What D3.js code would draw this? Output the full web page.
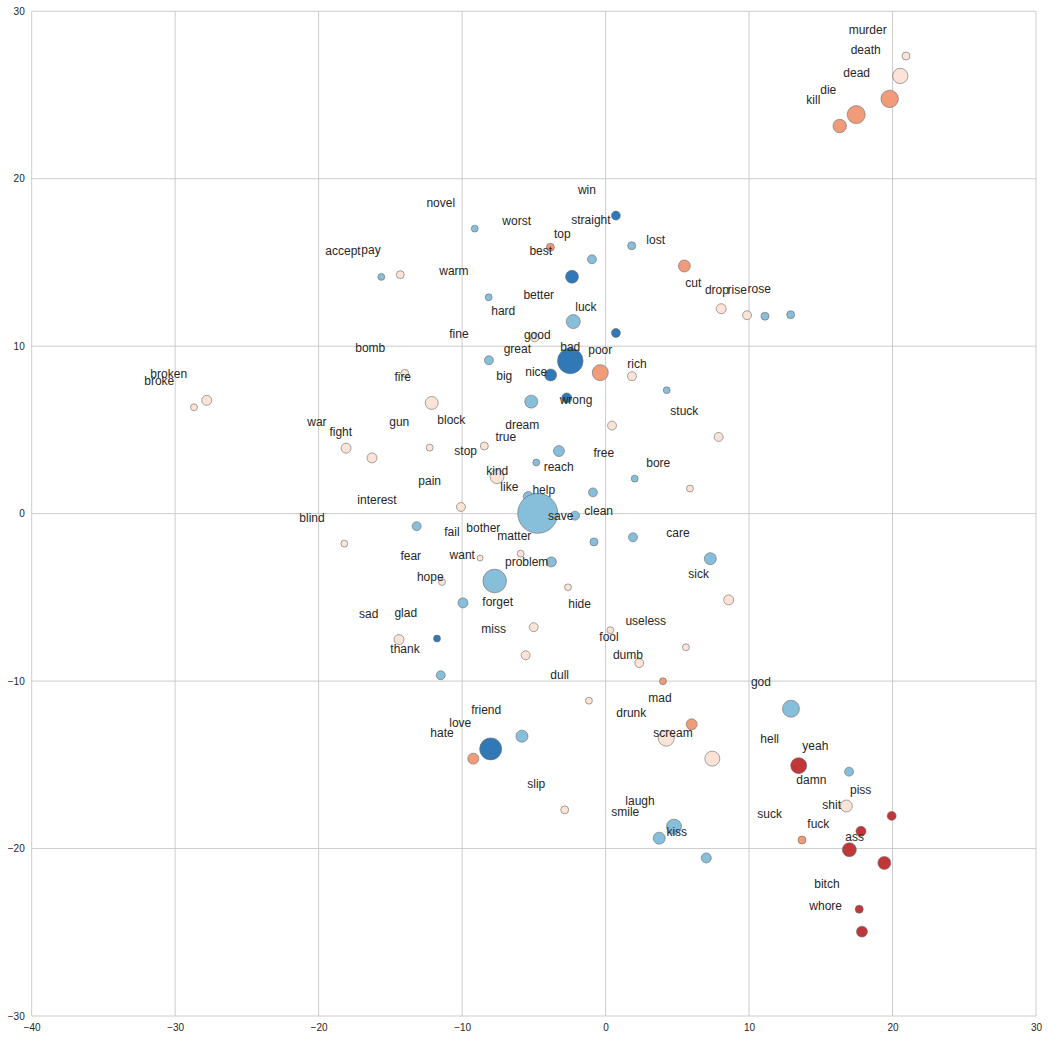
<!DOCTYPE html>
<html><head><meta charset="utf-8">
<script src="https://cdn.jsdelivr.net/npm/d3@7"></script>
<style>
body{margin:0;background:#fff;}
text{font-family:"Liberation Sans",Arial,Helvetica,sans-serif;}
</style>
</head><body>
<svg id="chart" width="1048" height="1040"></svg>
<script>
// ---- data (t-SNE coordinates) ----
const pointX = [20.94,20.54,19.80,17.47,16.32,5.49,8.06,9.86,11.11,12.90,
-9.12,-3.85,0.72,1.82,-0.95,-2.34,-15.63,-14.31,-8.15,-2.25,
0.72,-4.94,-8.13,-2.46,-0.37,-3.83,1.84,4.26,-14.00,-12.12,
-5.18,-2.71,0.45,-18.09,-16.28,-12.26,-8.45,-3.25,-4.83,-7.57,
2.03,5.88,-0.88,-5.39,-4.73,-10.08,-28.69,-27.80,-13.17,-18.21,
-11.40,-9.94,-14.40,-11.75,-11.49,-2.13,-0.81,1.91,-5.92,-8.75,
-3.78,7.30,-7.73,-2.62,8.58,-5.01,0.33,-5.57,5.60,2.35,
4.00,-1.16,6.00,-5.83,-8.01,-9.22,4.23,7.44,-2.85,4.77,
3.74,7.02,12.92,13.46,16.97,16.78,19.94,17.80,13.69,16.99,
19.43,17.68,17.87,7.88];
const pointY = [27.33,26.14,24.77,23.83,23.15,14.79,12.24,11.85,11.79,11.88,
17.02,15.91,17.80,16.00,15.19,14.15,14.14,14.27,12.92,11.47,
10.79,10.53,9.16,9.12,8.42,8.28,8.21,7.37,8.38,6.61,
6.69,6.91,5.26,3.91,3.33,3.94,4.04,3.74,3.05,2.21,
2.09,1.50,1.27,1.02,0.02,0.40,6.35,6.77,-0.75,-1.79,
-4.08,-5.33,-7.52,-7.46,-9.65,-0.12,-1.69,-1.41,-2.39,-2.65,
-2.88,-2.69,-4.02,-4.40,-5.15,-6.78,-6.96,-8.46,-7.98,-8.92,
-10.01,-11.17,-12.58,-13.29,-14.05,-14.63,-13.41,-14.63,-17.69,-18.69,
-19.38,-20.56,-11.65,-15.05,-15.41,-17.46,-18.05,-18.97,-19.49,-20.07,
-20.86,-23.62,-24.96,4.58];
const pointWeight = [16,59,76,81,45,36,25,20,16,16,
12,16,20,16,20,42,12,16,12,49,
20,20,20,164,64,36,20,12,16,42,
42,25,20,25,25,12,16,30,12,49,
12,12,20,25,400,20,12,25,20,12,
12,25,25,12,20,20,16,20,12,9,
25,36,139,12,25,20,12,20,12,20,
12,12,30,36,121,30,64,56,16,56,
36,25,72,64,20,36,20,25,16,49,
42,16,30,20];
const pointGroup = [3,3,4,4,4,4,3,3,1,1,
1,4,0,1,1,0,1,3,1,1,
0,3,1,0,4,0,3,1,3,3,
1,0,3,3,3,3,3,1,1,3,
1,3,1,1,1,3,3,3,1,3,
3,1,3,0,1,1,1,1,3,3,
1,1,1,3,3,3,3,3,3,3,
4,3,4,1,0,4,3,3,3,1,
1,1,1,5,1,3,5,5,4,5,
5,5,5,3];

const words = ["murder","death","dead","die","kill","cut","drop","rise","rose","win",
"novel","worst","straight","top","lost","pay","accept","best","warm","better",
"hard","luck","fine","good","bomb","great","bad","poor","rich","fire",
"big","nice","wrong","stuck","gun","block","dream","true","stop","free",
"reach","bore","kind","pain","like","help","interest","broken","broke","war",
"fight","blind","fail","fear","hope","sad","glad","thank","save","clean",
"bother","matter","care","want","problem","sick","forget","hide","useless","miss",
"fool","dumb","dull","god","mad","friend","drunk","love","hate","scream",
"slip","laugh","smile","kiss","hell","yeah","damn","piss","shit","suck",
"fuck","ass","bitch","whore"];
const labelX = [18.27,18.13,17.50,15.52,14.48,6.11,7.76,9.18,10.71,-1.30,
-11.49,-6.20,-1.02,-3.02,3.49,-16.35,-18.30,-4.52,-10.57,-4.66,
-7.13,-1.37,-10.22,-4.76,-16.40,-6.15,-2.46,-0.37,2.19,-14.14,
-7.06,-4.83,-2.06,5.49,-14.38,-10.75,-5.81,-6.96,-9.75,-0.13,
-3.27,3.67,-7.55,-12.26,-6.71,-4.31,-15.93,-30.45,-31.11,-20.12,
-18.46,-20.46,-10.71,-13.58,-12.22,-16.51,-13.93,-13.98,-3.13,-0.48,
-8.52,-6.36,5.05,-9.99,-5.50,6.49,-7.52,-1.81,2.80,-7.80,
0.24,1.56,-3.20,10.83,3.79,-8.32,1.79,-10.13,-11.40,4.70,
-4.83,2.40,1.37,4.96,11.44,14.62,14.34,17.78,15.76,11.44,
14.83,17.36,15.43,15.34];
const labelY = [28.89,27.69,26.34,25.34,24.71,13.76,13.36,13.36,13.42,19.33,
18.54,17.48,17.54,16.70,16.35,15.75,15.69,15.71,14.51,13.06,
12.12,12.36,10.75,10.67,9.93,9.84,9.97,9.76,8.96,8.18,
8.22,8.46,6.79,6.15,5.48,5.61,5.32,4.60,3.74,3.64,
2.81,3.05,2.57,1.97,1.61,1.42,0.82,8.36,7.92,5.49,
4.88,-0.24,-1.07,-2.51,-3.76,-5.97,-5.91,-8.08,-0.12,0.18,
-0.84,-1.31,-1.15,-2.47,-2.88,-3.60,-5.26,-5.39,-6.41,-6.89,
-7.35,-8.42,-9.63,-10.05,-11.01,-11.72,-11.88,-12.50,-13.08,-13.08,
-16.12,-17.14,-17.81,-18.99,-13.45,-13.87,-15.90,-16.50,-17.40,-17.93,
-18.53,-19.29,-22.10,-23.43];

const xTicks = [-40,-30,-20,-10,0,10,20,30];
const yTicks = [-30,-20,-10,0,10,20,30];
const palette = ["#3079b6","#87beda","#dceaf2","#fbe3d5","#f09b7a","#c13739"];

// ---- layout ----
const W = 1048, H = 1040;
const m = {left:31.7, top:11.3, right:W-1036, bottom:H-1016};
const svg = d3.select("#chart");
const x = d3.scaleLinear().domain([-40,30]).range([m.left, W-m.right]);
const y = d3.scaleLinear().domain([-30,30]).range([H-m.bottom, m.top]);
const r = d3.scaleSqrt().domain([0,400]).range([0,20]);
const color = d3.scaleOrdinal().domain(d3.range(palette.length)).range(palette);
const fmt = d => (d<0 ? "\u2212"+Math.abs(d) : String(d));

// grid
const g = svg.append("g");
g.selectAll("line.vx").data(xTicks).join("line")
  .attr("x1",d=>x(d)).attr("x2",d=>x(d)).attr("y1",y(-30)).attr("y2",y(30))
  .attr("stroke","#cccccc").attr("stroke-width",1);
g.selectAll("line.hy").data(yTicks).join("line")
  .attr("y1",d=>y(d)).attr("y2",d=>y(d)).attr("x1",x(-40)).attr("x2",x(30))
  .attr("stroke","#cccccc").attr("stroke-width",1);

// axes (labels only)
const xAxis = d3.axisBottom(x).tickValues(xTicks).tickSize(0).tickPadding(8).tickFormat(fmt);
const yAxis = d3.axisLeft(y).tickValues(yTicks).tickSize(0).tickPadding(7).tickFormat(fmt);
const gx = svg.append("g").attr("transform",`translate(0,${y(-30)})`).call(xAxis);
const gy = svg.append("g").attr("transform",`translate(${x(-40)},0)`).call(yAxis);
[gx,gy].forEach(a=>{
  a.select(".domain").remove();
  a.selectAll("text").attr("font-size",10).attr("fill","#262626")
   .attr("font-family","'Liberation Sans',Arial,sans-serif");
});

// points
const pts = d3.range(pointX.length).map(i=>({x:pointX[i],y:pointY[i],w:pointWeight[i],g:pointGroup[i]}));
svg.append("g").selectAll("circle").data(pts).join("circle")
  .attr("cx",d=>x(d.x)).attr("cy",d=>y(d.y)).attr("r",d=>r(d.w))
  .attr("fill",d=>color(d.g)).attr("stroke","#6a6a6a").attr("stroke-width",0.6);

// labels
const labs = words.map((w,i)=>({w, x:labelX[i], y:labelY[i]}));
svg.append("g").selectAll("text").data(labs).join("text")
  .attr("x",d=>x(d.x)).attr("y",d=>y(d.y)).attr("dy","0.35em")
  .attr("text-anchor","middle").attr("font-size",12).attr("fill","#262626")
  .text(d=>d.w);
</script>
</body></html>
